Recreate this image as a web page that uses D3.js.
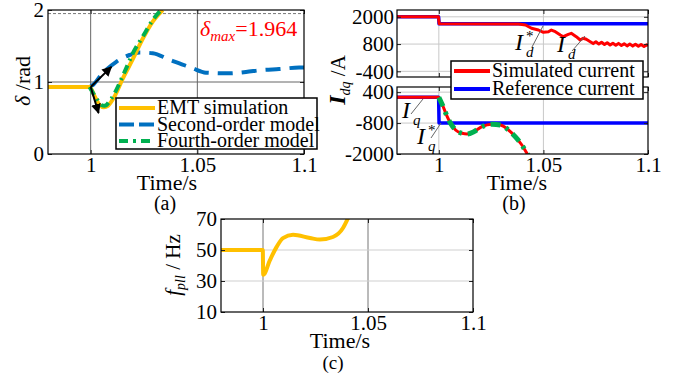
<!DOCTYPE html>
<html>
<head>
<meta charset="utf-8">
<script src="https://cdn.jsdelivr.net/npm/d3@7"></script>
<style>
  body { margin: 0; background: #fff; }
  svg, svg text { font-family: "Liberation Serif", "Times New Roman", "DejaVu Serif", serif; }
</style>
</head>
<body>
<svg id="fig" width="678" height="375"></svg>
<script>
// ---------- data ----------
const timeDomain = [0.98, 1.1];
const timeTicks = [1, 1.05, 1.1];
const deltaTicks = [0, 1, 2];
const idTicks = [-400, 800, 2000];
const iqTicks = [-2000, -800, 400];
const fTicks = [10, 30, 50, 70];
const deltaMax = 1.964;

// (a) power angle
const emtT = [0.98, 0.99, 0.9995, 1.0019, 1.0042, 1.0062, 1.0081, 1.0112, 1.0151, 1.0198, 1.0244, 1.0291, 1.0338];
const emtDelta = [0.93, 0.93, 0.93, 0.80, 0.68, 0.65, 0.67, 0.80, 1.05, 1.32, 1.60, 1.84, 2.0];
const secT = [0.9995, 1.0011, 1.005, 1.012, 1.0182, 1.0229, 1.0291, 1.0369, 1.0416, 1.0478, 1.054, 1.065, 1.0728, 1.0805, 1.0883, 1.0977, 1.1];
const secDelta = [0.93, 0.96, 1.10, 1.28, 1.375, 1.41, 1.40, 1.31, 1.26, 1.19, 1.13, 1.12, 1.14, 1.167, 1.18, 1.2, 1.2];
const fourT = [0.9995, 1.0025, 1.005, 1.0065, 1.0097, 1.0159, 1.0198, 1.0244, 1.0291, 1.033];
const fourDelta = [0.93, 0.78, 0.68, 0.67, 0.77, 1.14, 1.40, 1.63, 1.86, 2.0];
const arrowT = [1.0097, 1.0037];
const arrowDelta = [1.21, 0.57];

// (b) dq currents
const idT = [0.98, 0.9998, 1.0002, 1.030, 1.0381, 1.0414, 1.0443, 1.0476, 1.05, 1.0524, 1.0538, 1.0557, 1.0581,
  1.0595, 1.0619, 1.0633, 1.0657, 1.0676, 1.069, 1.0705, 1.0724, 1.0738, 1.0751, 1.0765, 1.0778, 1.0792,
  1.0805, 1.0819, 1.0832, 1.0846, 1.0859, 1.0873, 1.0886, 1.09, 1.0913, 1.0927, 1.094, 1.0954, 1.0967,
  1.0981, 1.0994, 1.1];
const idSim = [2000, 2000, 1690, 1685, 1680, 1640, 1494, 1419, 1318, 1344, 1419, 1344, 1199,
  1124, 1230, 1274, 1124, 979, 1054, 1010, 904, 820, 900, 800, 880, 780,
  860, 760, 840, 750, 830, 740, 810, 720, 800, 710, 790, 700, 780,
  690, 770, 720];
const idRefT = [0.98, 0.9999, 1.0001, 1.1];
const idRef = [2000, 2000, 1690, 1690];
const iqT = [0.98, 0.99, 0.9998, 1.0008, 1.0024, 1.004, 1.0056, 1.008, 1.0111, 1.0135, 1.0167, 1.0206, 1.0254,
  1.0294, 1.0333, 1.0365, 1.0397, 1.0421, 1.0435];
const iqSim = [200, 200, 200, 68, -227, -553, -809, -1069, -1197, -1224, -1135, -941, -847,
  -875, -1069, -1329, -1651, -1973, -2150];
const iqFourT = [1.0, 1.0008, 1.0024, 1.004, 1.0056, 1.008, 1.0111, 1.0135, 1.0167, 1.0206, 1.0254,
  1.0294, 1.0333, 1.0365, 1.0397, 1.0421, 1.0435];
const iqFour = [200, 68, -227, -553, -809, -1069, -1197, -1224, -1135, -941, -847,
  -875, -1069, -1329, -1651, -1973, -2150];
const iqRefT = [0.98, 0.9999, 1.0001, 1.1];
const iqRef = [200, 200, -800, -800];

// (c) PLL frequency
const fT = [0.98, 0.99, 0.9999, 1.0001, 1.0033, 1.0065, 1.0095, 1.0143, 1.0224, 1.0271, 1.0333, 1.0381, 1.0405];
const fPll = [50, 50, 50, 34, 43.5, 52, 57.7, 59.8, 57.7, 56.7, 58.4, 64.2, 70.6];

const cYellow = '#ffc000', cBlue2 = '#0070c0', cGreen = '#00b050', cRed = '#ff0000', cBlue = '#0000ff';

// ---------- helpers ----------
const SERIF = '"Liberation Serif", "Times New Roman", "DejaVu Serif", serif';
const svg = d3.select('#fig').attr('font-family', SERIF);
const FONT = 21;
const zip = (ts, vs) => ts.map((t, i) => [t, vs[i]]);
let clipCount = 0;

const makeAxes = (box, yDomain, yTicks, opts) => {
  const x = d3.scaleLinear().domain(timeDomain).range([box.left, box.right]);
  const y = d3.scaleLinear().domain(yDomain).range([box.bottom, box.top]);
  const g = svg.append('g');
  const clipId = 'clip' + clipCount++;
  g.append('clipPath').attr('id', clipId)
    .append('rect')
    .attr('x', box.left).attr('y', box.top)
    .attr('width', box.right - box.left).attr('height', box.bottom - box.top);

  // grid
  g.selectAll('.vgrid').data(timeTicks.filter((t) => t < 1.1)).enter()
    .append('line')
    .attr('x1', (d) => x(d)).attr('x2', (d) => x(d))
    .attr('y1', box.top).attr('y2', box.bottom)
    .attr('stroke', opts.vGrid).attr('stroke-width', 1);
  g.selectAll('.hgrid').data(yTicks.filter((v) => y(v) > box.top + 3 && y(v) < box.bottom - 3)).enter()
    .append('line')
    .attr('x1', box.left).attr('x2', box.right)
    .attr('y1', (d) => y(d)).attr('y2', (d) => y(d))
    .attr('stroke', opts.hGrid).attr('stroke-width', 1);

  const plot = g.append('g').attr('clip-path', `url(#${clipId})`);
  const front = g.append('g');

  // ticks (inward, mirrored) and labels
  const bottomAxis = d3.axisBottom(x).tickValues(timeTicks).tickSize(-4).tickPadding(3)
    .tickFormat(opts.xLabels ? (d) => String(d) : () => '');
  const leftAxis = d3.axisLeft(y).tickValues(yTicks).tickSize(-4).tickPadding(opts.yPad)
    .tickFormat((d) => String(d));
  const fmt = (a) => {
    a.select('.domain').remove();
    a.attr('font-family', SERIF).attr('font-size', FONT);
    a.selectAll('line').attr('stroke', '#222');
    a.selectAll('text').attr('fill', '#000').attr('font-family', SERIF);
  };
  front.append('g').attr('transform', `translate(0,${box.bottom})`).call(bottomAxis).call(fmt);
  front.append('g').attr('transform', `translate(0,${box.top})`)
    .call(d3.axisTop(x).tickValues(timeTicks).tickSize(-4).tickFormat('')).call(fmt);
  front.append('g').attr('transform', `translate(${box.left},0)`).call(leftAxis).call(fmt);
  front.append('g').attr('transform', `translate(${box.right},0)`)
    .call(d3.axisRight(y).tickValues(yTicks).tickSize(-4).tickFormat('')).call(fmt);

  front.append('rect')
    .attr('x', box.left).attr('y', box.top)
    .attr('width', box.right - box.left).attr('height', box.bottom - box.top)
    .attr('fill', 'none').attr('stroke', '#000').attr('stroke-width', 1.2);

  return { x, y, plot, front };
};

const drawLine = (ax, pts, color, width, dash, curve) => {
  ax.plot.append('path')
    .datum(pts)
    .attr('d', d3.line().x((d) => ax.x(d[0])).y((d) => ax.y(d[1])).curve(curve || d3.curveLinear))
    .attr('fill', 'none')
    .attr('stroke', color)
    .attr('stroke-width', width)
    .attr('stroke-dasharray', dash || null)
    .attr('stroke-linejoin', 'round');
};

const smooth = d3.curveMonotoneX;

const legend = (bx, items) => {
  const g = svg.append('g');
  g.append('rect').attr('x', bx.x).attr('y', bx.y).attr('width', bx.w).attr('height', bx.h)
    .attr('fill', '#fff').attr('stroke', '#000').attr('stroke-width', 1.5);
  items.forEach((it, i) => {
    const yy = bx.y + bx.first + i * bx.step;
    g.append('line').attr('x1', bx.x + 3).attr('x2', bx.x + 3 + bx.lineLen)
      .attr('y1', yy).attr('y2', yy)
      .attr('stroke', it.color).attr('stroke-width', 4)
      .attr('stroke-dasharray', it.dash || null);
    g.append('text').attr('x', bx.x + bx.lineLen + 5).attr('y', yy + 6)
      .attr('font-size', 20).text(it.label);
  });
};

const caption = (x, y, txt, size) =>
  svg.append('text').attr('x', x).attr('y', y).attr('text-anchor', 'middle')
    .attr('font-size', size || FONT).text(txt);

// ---------- (a) ----------
const axA = makeAxes({ left: 48, right: 304, top: 10, bottom: 154 }, [0, 2], deltaTicks,
  { vGrid: '#666', hGrid: '#666', xLabels: true, yPad: 4 });

axA.plot.append('line')
  .attr('x1', 48).attr('x2', 304)
  .attr('y1', axA.y(deltaMax) + 1).attr('y2', axA.y(deltaMax) + 1)
  .attr('stroke', '#777').attr('stroke-dasharray', '3,2');

drawLine(axA, zip(secT, secDelta), cBlue2, 4, '15,9', smooth);
drawLine(axA, zip(emtT, emtDelta), cYellow, 4, null, smooth);
drawLine(axA, zip(fourT, fourDelta), cGreen, 4, '9,5,2,5', smooth);

const defs = svg.append('defs');
defs.append('marker').attr('id', 'arrowhead').attr('viewBox', '0 0 10 10')
  .attr('refX', 9).attr('refY', 5).attr('markerWidth', 5).attr('markerHeight', 5)
  .attr('orient', 'auto-start-reverse')
  .append('path').attr('d', 'M0,0 L10,5 L0,10 Z').attr('fill', '#000');
arrowT.forEach((t, i) => {
  axA.front.append('line')
    .attr('x1', axA.x(1.0)).attr('y1', axA.y(0.93))
    .attr('x2', axA.x(t)).attr('y2', axA.y(arrowDelta[i]))
    .attr('stroke', '#000').attr('stroke-width', 2)
    .attr('marker-end', 'url(#arrowhead)');
});

const dm = svg.append('text').attr('x', 200).attr('y', 36).attr('fill', cRed).attr('font-size', 22);
dm.append('tspan').attr('font-style', 'italic').text('δ');
dm.append('tspan').attr('font-style', 'italic').attr('font-size', 15).attr('dy', 5).text('max');
dm.append('tspan').attr('dy', -5).text('=' + deltaMax);

legend({ x: 116, y: 98, w: 201, h: 51, first: 10, step: 16.5, lineLen: 36 }, [
  { label: 'EMT simulation', color: cYellow },
  { label: 'Second-order model', color: cBlue2, dash: '15,5' },
  { label: 'Fourth-order model', color: cGreen, dash: '9,5,3,5' },
]);

const yla = svg.append('text').attr('transform', 'translate(30,81) rotate(-90)')
  .attr('text-anchor', 'middle').attr('font-size', 22);
yla.append('tspan').attr('font-style', 'italic').text('δ');
yla.append('tspan').text(' /rad');
caption(167, 190, 'Time/s', 22);
caption(165, 210, '(a)', 20);

// ---------- (b) ----------
const axB1 = makeAxes({ left: 397, right: 648, top: 10, bottom: 77 }, [-650, 2300], idTicks,
  { vGrid: '#c8c8c8', hGrid: '#c8c8c8', xLabels: false, yPad: 3 });
drawLine(axB1, zip(idRefT, idRef), cBlue, 3.5);
drawLine(axB1, zip(idT, idSim), cRed, 3);

const axB2 = makeAxes({ left: 397, right: 648, top: 87, bottom: 154 }, [-2000, 600], iqTicks,
  { vGrid: '#c8c8c8', hGrid: '#c8c8c8', xLabels: true, yPad: 3 });
drawLine(axB2, zip(iqRefT, iqRef), cBlue, 3.5);
drawLine(axB2, zip(iqT, iqSim), cRed, 3, null, smooth);
drawLine(axB2, zip(iqFourT, iqFour), cGreen, 5, '10,6,3,6', smooth);

const iLabel = (x, y, sub, star) => {
  const t = svg.append('text').attr('x', x).attr('y', y).attr('font-size', 24);
  t.append('tspan').attr('font-style', 'italic').text('I');
  const xs = x + 11;
  svg.append('text').attr('x', xs).attr('y', y + 7).attr('font-size', 15)
    .attr('font-style', 'italic').text(sub);
  if (star) svg.append('text').attr('x', xs).attr('y', y - 9).attr('font-size', 15).text('*');
};
const slash = (x1, y1, x2, y2) =>
  svg.append('line').attr('x1', x1).attr('y1', y1).attr('x2', x2).attr('y2', y2)
    .attr('stroke', '#666').attr('stroke-width', 1);

iLabel(515, 50, 'd', true); slash(532, 47, 543, 26);
iLabel(557, 52, 'd', false); slash(572, 51, 585, 36);
iLabel(402, 118, 'q', false); slash(411, 114, 423, 99);
iLabel(417, 144, 'q', true); slash(431, 138, 441, 123);

legend({ x: 451, y: 61, w: 192, h: 38, first: 10, step: 18, lineLen: 36 }, [
  { label: 'Simulated current', color: cRed },
  { label: 'Reference current', color: cBlue },
]);

const ylb = svg.append('text').attr('transform', 'translate(345,80) rotate(-90)')
  .attr('text-anchor', 'middle').attr('font-size', FONT);
ylb.append('tspan').attr('font-style', 'italic').attr('font-weight', 'bold').attr('font-size', 24).text('I');
ylb.append('tspan').attr('font-style', 'italic').attr('font-size', 14).attr('dy', 5).text('dq');
ylb.append('tspan').attr('dy', -5).text(' /A');
caption(517, 190, 'Time/s', 22);
caption(514, 210, '(b)', 20);

// ---------- (c) ----------
const axC = makeAxes({ left: 221, right: 473, top: 219, bottom: 312 }, [10, 70], fTicks,
  { vGrid: '#777', hGrid: '#cfcfcf', xLabels: true, yPad: 4 });
drawLine(axC, zip(fT, fPll), cYellow, 4, null, smooth);

const ylc = svg.append('text').attr('transform', 'translate(180,265) rotate(-90)')
  .attr('text-anchor', 'middle').attr('font-size', FONT);
ylc.append('tspan').attr('font-style', 'italic').text('f');
ylc.append('tspan').attr('font-style', 'italic').attr('font-size', 14).attr('dy', 5).text('pll');
ylc.append('tspan').attr('dy', -5).text(' / Hz');
caption(340, 348, 'Time/s', 22);
caption(333, 369, '(c)', 19);
</script>
</body>
</html>
